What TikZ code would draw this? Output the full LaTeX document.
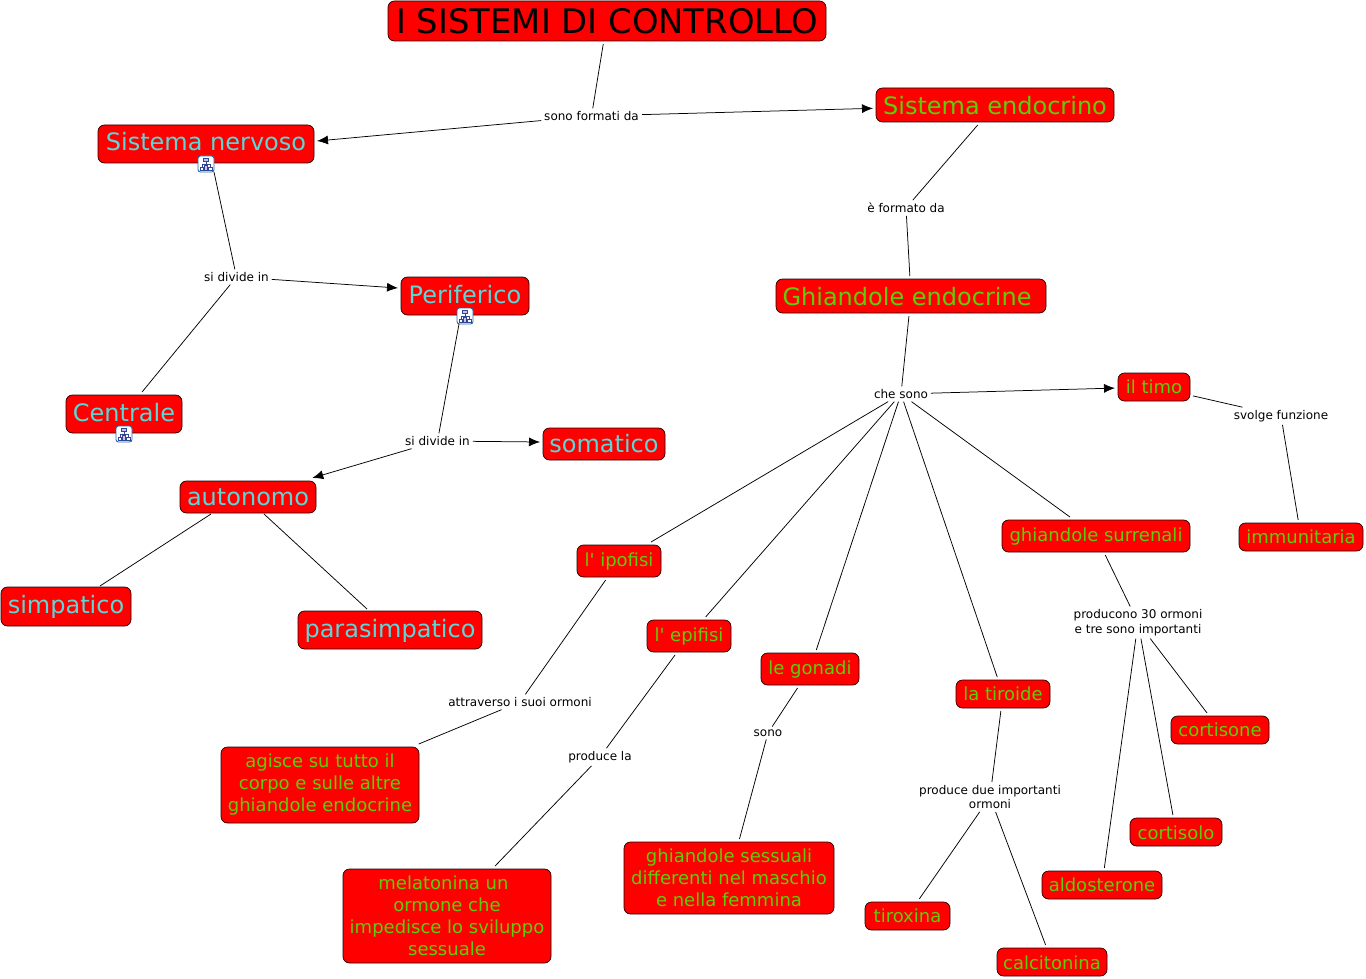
\documentclass[tikz,border=0pt]{standalone}
\usepackage{fontspec}
\setmainfont{DejaVu Sans}
\usetikzlibrary{arrows.meta}
\definecolor{boxred}{RGB}{255,0,0}
\definecolor{cyantext}{RGB}{90,215,215}
\definecolor{greentext}{RGB}{95,205,10}
\definecolor{iconblue}{RGB}{45,70,150}
\definecolor{iconfill}{RGB}{210,190,225}
\tikzset{
  box/.style={draw=black!85!red,fill=boxred,rounded corners=6.5pt,line width=0.7pt,inner sep=0pt,outer sep=3pt,align=center},
  boxtitle/.style={box,text=black,font=\fontsize{33.8}{38}\selectfont},
  boxcyan/.style={box,text=cyantext,font=\fontsize{24}{28}\selectfont},
  boxgreenL/.style={box,text=greentext,font=\fontsize{24}{28}\selectfont},
  boxgreen/.style={box,text=greentext,font=\fontsize{18}{22}\selectfont},
  lab/.style={font=\fontsize{12}{14.5}\selectfont,align=center,inner sep=0pt,outer sep=3pt,text=black},
  link/.style={draw=black,line width=0.75pt},
  arr/.style={link,-{Latex[length=11pt,width=9pt]}},
  iconbox/.style={draw=iconblue!80!cyan,fill=white,rounded corners=2.5pt,line width=0.9pt,minimum width=16pt,minimum height=16pt,inner sep=0pt,outer sep=0pt},
  pics/hier/.style={code={
    \draw[iconblue,line width=0.6pt] (0,-3) -- (0,3) (-4,3) -- (-4,0) -- (4,0) -- (4,3);
    \draw[iconblue,fill=iconfill,line width=0.7pt] (-2.5,-6) rectangle (2.5,-2.5);
    \draw[iconblue,fill=white,line width=0.7pt] (-6,3) rectangle (-2.7,6);
    \draw[iconblue,fill=iconfill,line width=0.7pt] (-1.5,1.5) rectangle (1.5,6);
    \draw[iconblue,fill=white,line width=0.7pt] (2.7,3) rectangle (6,6);
  }}
}
\newcommand{\bx}[7]{\node[#1,minimum width=#4-#3,minimum height=#6-#5] (#2) at ({(#3+#4)/2},{(#5+#6)/2}) {#7};}
\newcommand{\upt}[2]{\raisebox{#1}[\height][\depth]{#2}}
\begin{document}
\begin{tikzpicture}[x=1pt,y=-1pt]
\useasboundingbox (0,0) rectangle (1366,979);
% boxes
\bx{boxtitle}{title}{388}{826}{1}{41}{I SISTEMI DI CONTROLLO}
\bx{boxcyan}{nervoso}{98}{314}{125}{163}{\upt{2pt}{Sistema nervoso}}
\bx{boxgreenL}{endocrino}{876}{1114}{88}{122}{\upt{-0.8pt}{Sistema endocrino}}
\bx{boxgreenL}{ghiandole}{776}{1046}{279}{313}{\upt{-0.8pt}{Ghiandole endocrine\hspace*{8pt}}}
\bx{boxcyan}{periferico}{401}{529}{277}{315}{\upt{1pt}{Periferico}}
\bx{boxcyan}{centrale}{66}{182}{395}{433}{\upt{1.5pt}{Centrale}}
\bx{boxcyan}{somatico}{543}{665}{428}{460}{somatico}
\bx{boxcyan}{autonomo}{180}{316}{481}{513}{autonomo}
\bx{boxcyan}{simpatico}{1}{131}{587}{626}{\upt{-0.8pt}{simpatico}}
\bx{boxcyan}{parasimpatico}{298}{482}{611}{649}{\upt{-0.8pt}{parasimpatico}}
\bx{boxgreen}{timo}{1118}{1190}{373}{401}{il timo}
\bx{boxgreen}{immunitaria}{1239}{1363}{523}{551}{immunitaria}
\bx{boxgreen}{surrenali}{1002}{1190}{520}{552}{\upt{-0.7pt}{ghiandole surrenali}}
\bx{boxgreen}{ipofisi}{577}{661}{545}{577}{\upt{-0.7pt}{l\textquotesingle{} ipofisi}}
\bx{boxgreen}{epifisi}{647}{731}{620}{652}{\upt{-0.7pt}{l\textquotesingle{} epifisi}}
\bx{boxgreen}{gonadi}{761}{859}{653}{685}{\upt{-0.7pt}{le gonadi}}
\bx{boxgreen}{tiroide}{956}{1050}{680}{708}{la tiroide}
\bx{boxgreen}{cortisone}{1171}{1269}{716}{744}{cortisone}
\bx{boxgreen}{cortisolo}{1130}{1222}{818}{846}{\upt{-0.7pt}{cortisolo}}
\bx{boxgreen}{aldosterone}{1042}{1162}{871}{899}{aldosterone}
\bx{boxgreen}{tiroxina}{865}{950}{902}{930}{tiroxina}
\bx{boxgreen}{calcitonina}{997}{1107}{948}{976}{\upt{-0.7pt}{calcitonina}}
\bx{boxgreen}{agisce}{221}{419}{747}{823}{agisce su tutto il\\corpo e sulle altre\\ghiandole endocrine}
\bx{boxgreen}{melatonina}{343}{551}{869}{963}{melatonina un\hspace*{7pt}\\ormone che\hspace*{6pt}\\impedisce lo sviluppo\\sessuale}
\bx{boxgreen}{sessuali}{624}{834}{842}{914}{ghiandole sessuali\\differenti nel maschio\\e nella femmina}
% icons
\node[iconbox] (nervosoicon) at (206,164) {};
\node[iconbox] (perifericoicon) at (465,316) {};
\node[iconbox] (centraleicon) at (124,434) {};
\pic at (nervosoicon) {hier};
\pic at (perifericoicon) {hier};
\pic at (centraleicon) {hier};
% labels
\node[lab] (l1) at (591.5,116) {sono formati da};
\node[lab] (l2) at (906,208) {è formato da};
\node[lab] (l3) at (236.5,277) {si divide in};
\node[lab] (l4) at (437.5,441) {si divide in};
\node[lab] (l5) at (901,394) {che sono};
\node[lab] (l6) at (1281,416) {svolge funzione};
\node[lab] (l7) at (1138,622.5) {producono 30 ormoni\\e tre sono importanti};
\node[lab] (l8) at (520,702) {attraverso i suoi ormoni};
\node[lab] (l9) at (600,757) {produce la};
\node[lab] (l10) at (768,733) {sono};
\node[lab] (l11) at (990,797) {produce due importanti\\ormoni};
% connectors
\draw[link] (title) -- (l1);
\draw[arr] (l1) -- ([yshift=3pt]nervoso.east);
\draw[arr] (l1) -- (endocrino);
\draw[link] (nervosoicon.south east) -- (l3);
\draw[arr] (l3) -- ([yshift=8pt]periferico.west);
\draw[link] (l3) -- (centrale);
\draw[link] ([xshift=2pt]perifericoicon.south west) -- (l4);
\draw[arr] (l4) -- ([yshift=2pt]somatico.west);
\draw[arr] (l4) -- (autonomo);
\draw[link] ([xshift=-37pt,yshift=2pt]autonomo.south) -- ([xshift=34pt,yshift=-2pt]simpatico.north);
\draw[link] ([xshift=16pt,yshift=2pt]autonomo.south) -- ([xshift=-23pt,yshift=-1pt]parasimpatico.north);
\draw[link] (endocrino) -- (l2);
\draw[link] (l2) -- (ghiandole);
\draw[link] (ghiandole) -- (l5);
\draw[arr] (l5) -- (timo);
\draw[link] (timo) -- (l6);
\draw[link] (l6) -- (immunitaria);
\draw[link] (l5) -- (ipofisi);
\draw[link] (l5) -- (epifisi);
\draw[link] (l5) -- (gonadi);
\draw[link] (l5) -- (tiroide);
\draw[link] (l5) -- (surrenali);
\draw[link] (surrenali) -- (l7);
\draw[link] (l7) -- (cortisone);
\draw[link] (l7) -- (cortisolo);
\draw[link] (l7) -- (aldosterone);
\draw[link] (ipofisi) -- (l8);
\draw[link] (l8) -- (agisce);
\draw[link] (epifisi) -- (l9);
\draw[link] (l9) -- (melatonina);
\draw[link] (gonadi) -- (l10);
\draw[link] (l10) -- (sessuali);
\draw[link] (tiroide) -- (l11);
\draw[link] (l11) -- (tiroxina);
\draw[link] (l11) -- (calcitonina);
\end{tikzpicture}
\end{document}
